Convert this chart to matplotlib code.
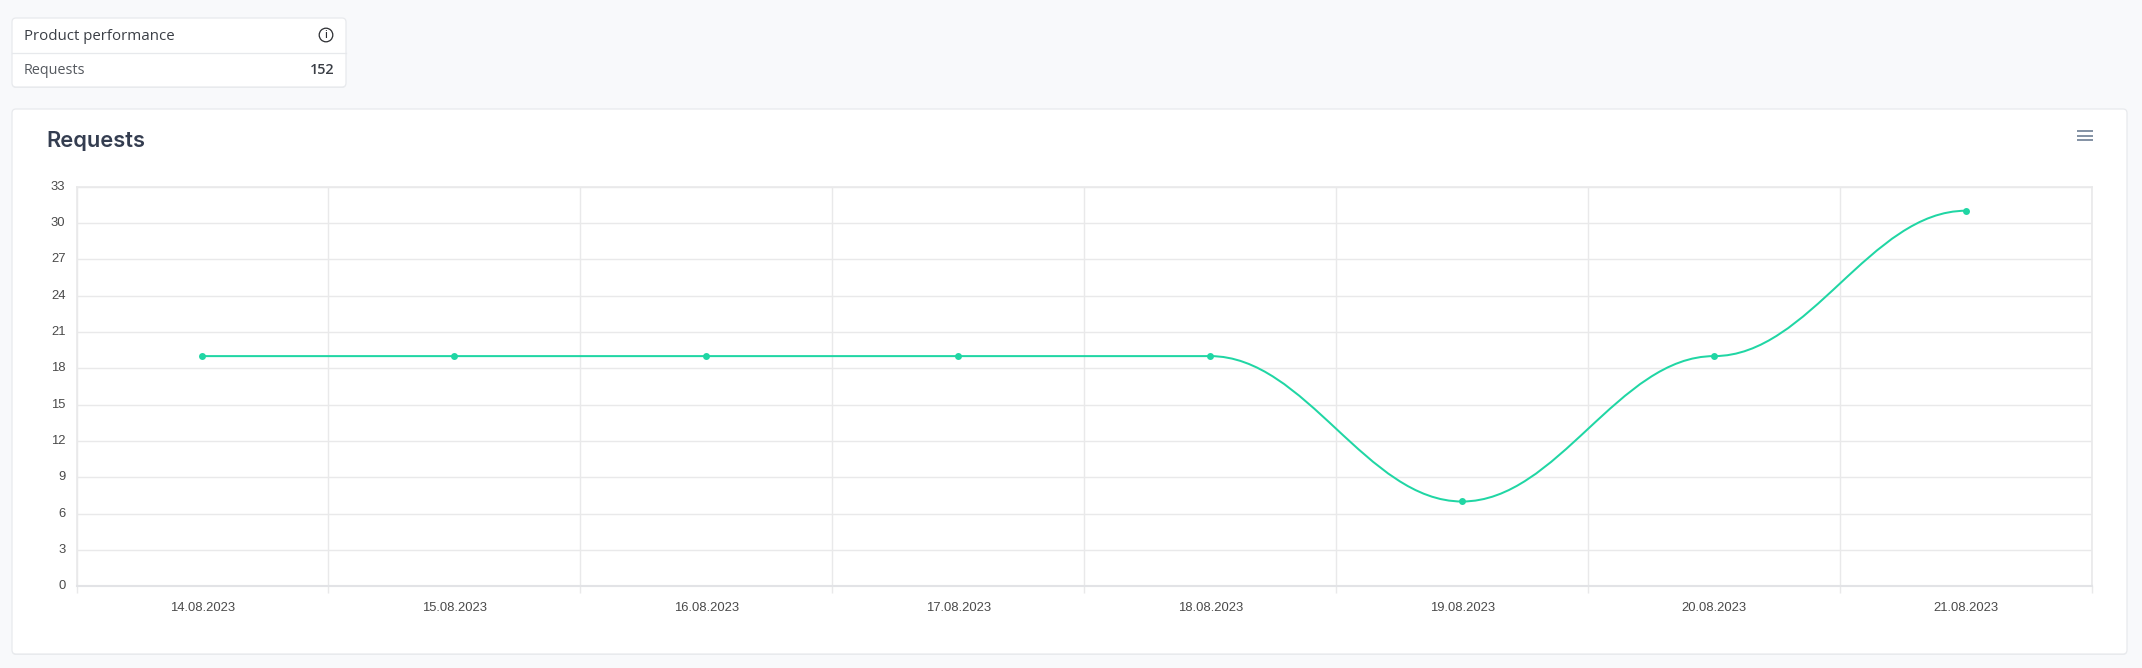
import matplotlib
matplotlib.use('Agg')
import matplotlib.pyplot as plt
from matplotlib.patches import FancyBboxPatch, PathPatch, Circle
from matplotlib.path import Path
from matplotlib.transforms import ScaledTranslation

dates = ['14.08.2023', '15.08.2023', '16.08.2023', '17.08.2023',
         '18.08.2023', '19.08.2023', '20.08.2023', '21.08.2023']
requests = [19, 19, 19, 19, 19, 7, 19, 31]
y_ticks = list(range(0, 34, 3))
total_requests = '152'

W, H = 2142, 668
GRID = '#e9e9ea'
LINE = '#20d6a4'

fig = plt.figure(figsize=(W / 100, H / 100), dpi=100, facecolor='#f8f9fb')

# page layer in pixel coordinates
bg = fig.add_axes([0, 0, 1, 1])
bg.set_xlim(0, W)
bg.set_ylim(H, 0)
bg.axis('off')


def card(x0, y0, x1, y1):
    # soft shadow first, then the white card with its thin border
    bg.add_patch(FancyBboxPatch((x0, y0 + 1), x1 - x0, y1 - y0,
                                boxstyle='round,pad=0,rounding_size=4',
                                fc='#e9ebee', ec='none'))
    bg.add_patch(FancyBboxPatch((x0, y0), x1 - x0, y1 - y0,
                                boxstyle='round,pad=0,rounding_size=4',
                                fc='white', ec='#e8eaed', lw=0.9))


card(12, 18, 346, 87)
card(12, 109, 2127, 654)

bg.plot([12, 346], [52.5, 52.5], color='#e7e9ec', lw=0.9)
bg.text(24, 36, 'Product performance', family='Open Sans', fontsize=10.8,
        color='#3b3f46', va='center', ha='left')
bg.text(24, 70, 'Requests', family='Open Sans', fontsize=10.4,
        color='#55595f', va='center', ha='left')
bg.text(334.5, 70, total_requests, family='Open Sans', fontsize=10.4,
        weight='semibold', color='#3b3f46', va='center', ha='right')
bg.add_patch(Circle((326, 35), 6.8, fc='none', ec='#2b2d31', lw=0.9))
bg.text(326, 35.3, 'i', family='Open Sans', fontsize=7, weight='semibold',
        color='#2b2d31', va='center', ha='center')
bg.text(46, 141, 'Requests', family='Inter', fontsize=15.7, weight='semibold',
        color='#343d50', va='center', ha='left')
for y in (131, 135.5, 140):
    bg.plot([2077, 2092.5], [y, y], color='#6e7f95', lw=1.2, solid_capstyle='butt')

# chart
ax = fig.add_axes([76.5 / W, 1 - 586.3 / H, (2092 - 76.5) / W, (586.3 - 186.5) / H])
ax.set_facecolor('none')
ax.set_xlim(-0.5, len(dates) - 0.5)
ax.set_ylim(0, 33)

ax.set_yticks(y_ticks)
ax.set_xticks([i - 0.5 for i in range(len(dates) + 1)])
ax.set_xticklabels([])
ax.set_xticks(range(len(dates)), labels=dates, minor=True)
ax.grid(True, which='major', color=GRID, lw=1.0)
ax.set_axisbelow(True)
ax.tick_params(axis='x', which='major', length=5, width=1.0, color=GRID)
ax.tick_params(axis='x', which='minor', length=0, pad=11.5, labelsize=9.4,
               labelcolor='#4a4a4a')
ax.tick_params(axis='y', length=0, pad=8, labelsize=9.4, labelcolor='#4a4a4a')
for lab in ax.get_xticklabels(minor=True):
    lab.set_family('Liberation Sans')
# y labels sit a little above their grid lines
up = ScaledTranslation(0, 1.5 / 100, fig.dpi_scale_trans)
for lab in ax.get_yticklabels():
    lab.set_family('Liberation Sans')
    lab.set_transform(lab.get_transform() + up)
for name, spine in ax.spines.items():
    spine.set_color(GRID)
    spine.set_linewidth(1.2)
ax.spines['bottom'].set_color('#e2e3e6')
ax.spines['bottom'].set_linewidth(1.5)

# smooth line: bezier through the points with flat tangents at each one
bend = 0.38
verts = [(0, requests[0])]
codes = [Path.MOVETO]
for i in range(1, len(requests)):
    verts += [(i - 1 + bend, requests[i - 1]), (i - bend, requests[i]), (i, requests[i])]
    codes += [Path.CURVE4] * 3
ax.add_patch(PathPatch(Path(verts, codes), fc='none', ec=LINE, lw=1.45,
                       clip_on=False, zorder=3))
ax.plot(range(len(dates)), requests, ls='none', marker='o', ms=5,
        color=LINE, mew=0, zorder=4)

fig.savefig('out.png', dpi=100, facecolor=fig.get_facecolor())
